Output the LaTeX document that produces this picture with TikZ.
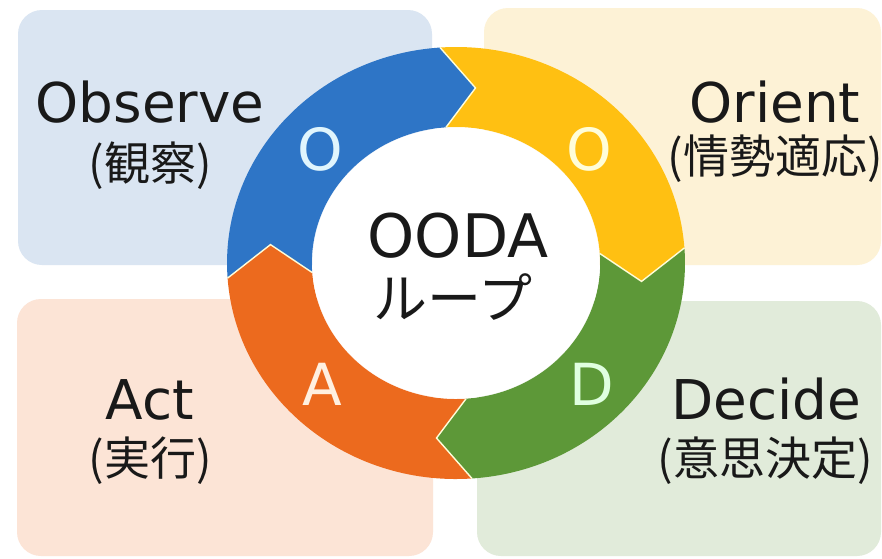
\documentclass[tikz,border=0pt]{standalone}
\usepackage{fontspec}
\setmainfont{DejaVu Sans}
\newfontfamily\cjk{Noto Sans CJK JP}
\definecolor{oblue}{RGB}{46,117,198}
\definecolor{oyellow}{RGB}{255,192,18}
\definecolor{ogreen}{RGB}{93,152,56}
\definecolor{oorange}{RGB}{236,106,30}
\definecolor{bxblue}{RGB}{218,229,242}
\definecolor{bxyellow}{RGB}{253,242,214}
\definecolor{bxorange}{RGB}{252,228,214}
\definecolor{bxgreen}{RGB}{225,235,218}
\definecolor{txt}{RGB}{25,25,25}
\tikzset{
  box/.style={rounded corners=12pt},
  lat/.style={font=\fontsize{27.4}{30}\selectfont, text=txt, anchor=base, inner sep=0pt},
  jp/.style={font=\cjk\fontsize{23}{26}\selectfont, text=txt, anchor=base, inner sep=0pt},
  ringlet/.style={font=\fontsize{29}{32}\selectfont, anchor=base, inner sep=0pt},
  sepline/.style={draw=white!85!yellow, line width=0.7pt, line join=miter}
}
\begin{document}
\begin{tikzpicture}[x=0.5pt, y=-0.5pt]
\useasboundingbox (0,0) rectangle (882,558);
\fill[white] (0,0) rectangle (882,558);
% quadrant boxes
\fill[bxblue, box] (18,10) rectangle (432,265);
\fill[bxyellow, box] (484,8) rectangle (881,265);
\fill[bxorange, box] (17,299) rectangle (433,556);
\fill[bxgreen, box] (477,301) rectangle (881,556);
% ring
\coordinate (ringc) at (456,263);
\def\Ro{216}
\def\Ri{136}
\def\Rm{176}
\begin{scope}[shift={(ringc)}, x=0.53pt, y=0.5pt]
  \foreach \a/\col in {184/oblue, 94/oyellow, 4/ogreen, -86/oorange} {
    \pgfmathsetmacro\segend{\a-90}
    \fill[\col] (\a:\Ro) arc[start angle=\a, end angle=\segend, radius=\Ro]
      -- (\segend-10:\Rm) -- (\segend:\Ri)
      arc[start angle=\segend, end angle=\a, radius=\Ri]
      -- (\a-10:\Rm) -- cycle;
  }
  \foreach \a in {184, 94, 4, -86} {
    \draw[sepline] (\a:\Ro) -- (\a-10:\Rm) -- (\a:\Ri);
  }
  \fill[white] (0,0) circle[radius=\Ri-0.5];
\end{scope}
% labels
\node[lat] (obs) at (150,122) {Observe};
\node[jp] (obsj) at (150,180) {(観察)};
\node[lat] (ori) at (775,122) {Orient};
\node[jp] (orij) at (775,173) {(情勢適応)};
\node[lat] (act) at (150,419) {Act};
\node[jp] (actj) at (150,475) {(実行)};
\node[lat] (dec) at (766,419) {Decide};
\node[jp] (decj) at (765,475) {(意思決定)};
% ring letters
\node[ringlet, text=white!88!cyan] (lo1) at (320,170) {O};
\node[ringlet, text=white!85!yellow] (lo2) at (589,170) {O};
\node[ringlet, text=white!88!orange] (la) at (322,405) {A};
\node[ringlet, text=white!88!green] (ld) at (592,405) {D};
% centre
\node[font=\fontsize{30}{33}\selectfont, text=txt, anchor=base, inner sep=0pt] (ooda) at (458,257) {OODA};
\node[font=\cjk\fontsize{27}{30}\selectfont, text=txt, anchor=base, inner sep=0pt] (loop) at (453,318) {ループ};
\end{tikzpicture}
\end{document}
